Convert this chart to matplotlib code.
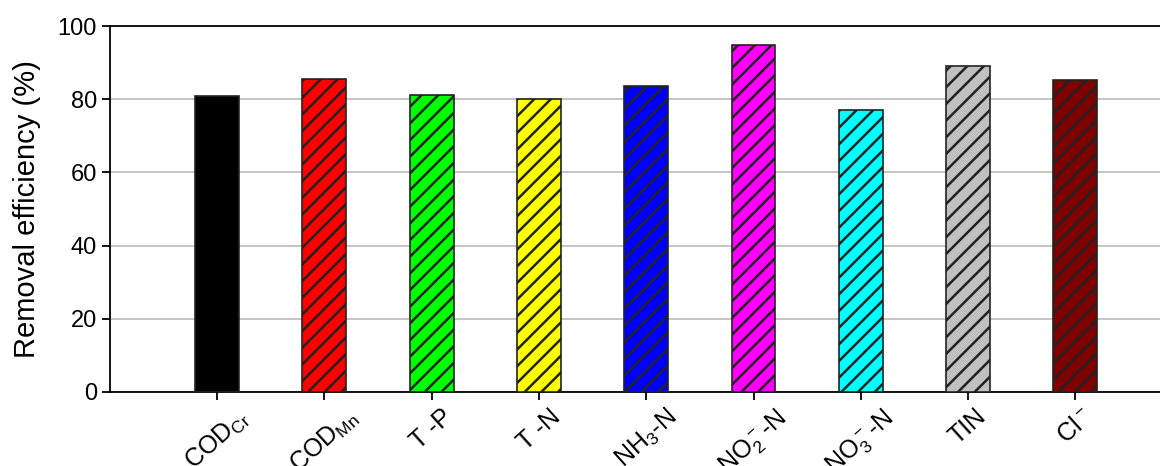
import matplotlib.pyplot as plt

plt.rcParams['font.family'] = ['Liberation Sans', 'DejaVu Sans']

categories = [r'COD$\mathregular{_{Cr}}$', r'COD$\mathregular{_{Mn}}$', 'T -P', 'T -N',
              r'NH$\mathregular{_3}$-N', r'NO$\mathregular{_2^-}$-N', r'NO$\mathregular{_3^-}$-N',
              'TIN', r'Cl$\mathregular{^-}$']
removal = [80.9, 85.5, 81.1, 80.1, 83.7, 94.7, 77.0, 89.1, 85.2]
colors = ['black', 'red', 'lime', 'yellow', 'blue', 'magenta', 'cyan', 'silver', 'maroon']

plt.rcParams['hatch.linewidth'] = 1.8
fig = plt.figure(figsize=(11.6, 4.66), dpi=100)
ax = fig.add_axes([0.0948, 0.1588, 0.92, 0.7854])

x = list(range(len(categories)))
bars = ax.bar(x, removal, width=0.41, color=colors, edgecolor='#222222',
              linewidth=1.2, hatch='//', zorder=3)
bars[0].set_hatch('')

ax.set_xlim(-1, 8.95)
ax.set_ylim(0, 100)
ax.set_yticks([0, 20, 40, 60, 80, 100])
ax.yaxis.grid(True, color='#c0c0c0', linewidth=1.3, zorder=0)
ax.set_xticks(x)
ax.set_xticklabels(categories, rotation=42, ha='center', fontsize=18)
ax.tick_params(axis='y', labelsize=17, direction='out', length=6, width=1.3)
ax.tick_params(axis='x', direction='out', length=6, width=1.3, pad=3)
ax.spines['right'].set_visible(False)
for s in ['left', 'top', 'bottom']:
    ax.spines[s].set_linewidth(1.3)
ax.set_ylabel('Removal efficiency (%)', fontsize=21, labelpad=12)

fig.savefig('out.png', dpi=100)
